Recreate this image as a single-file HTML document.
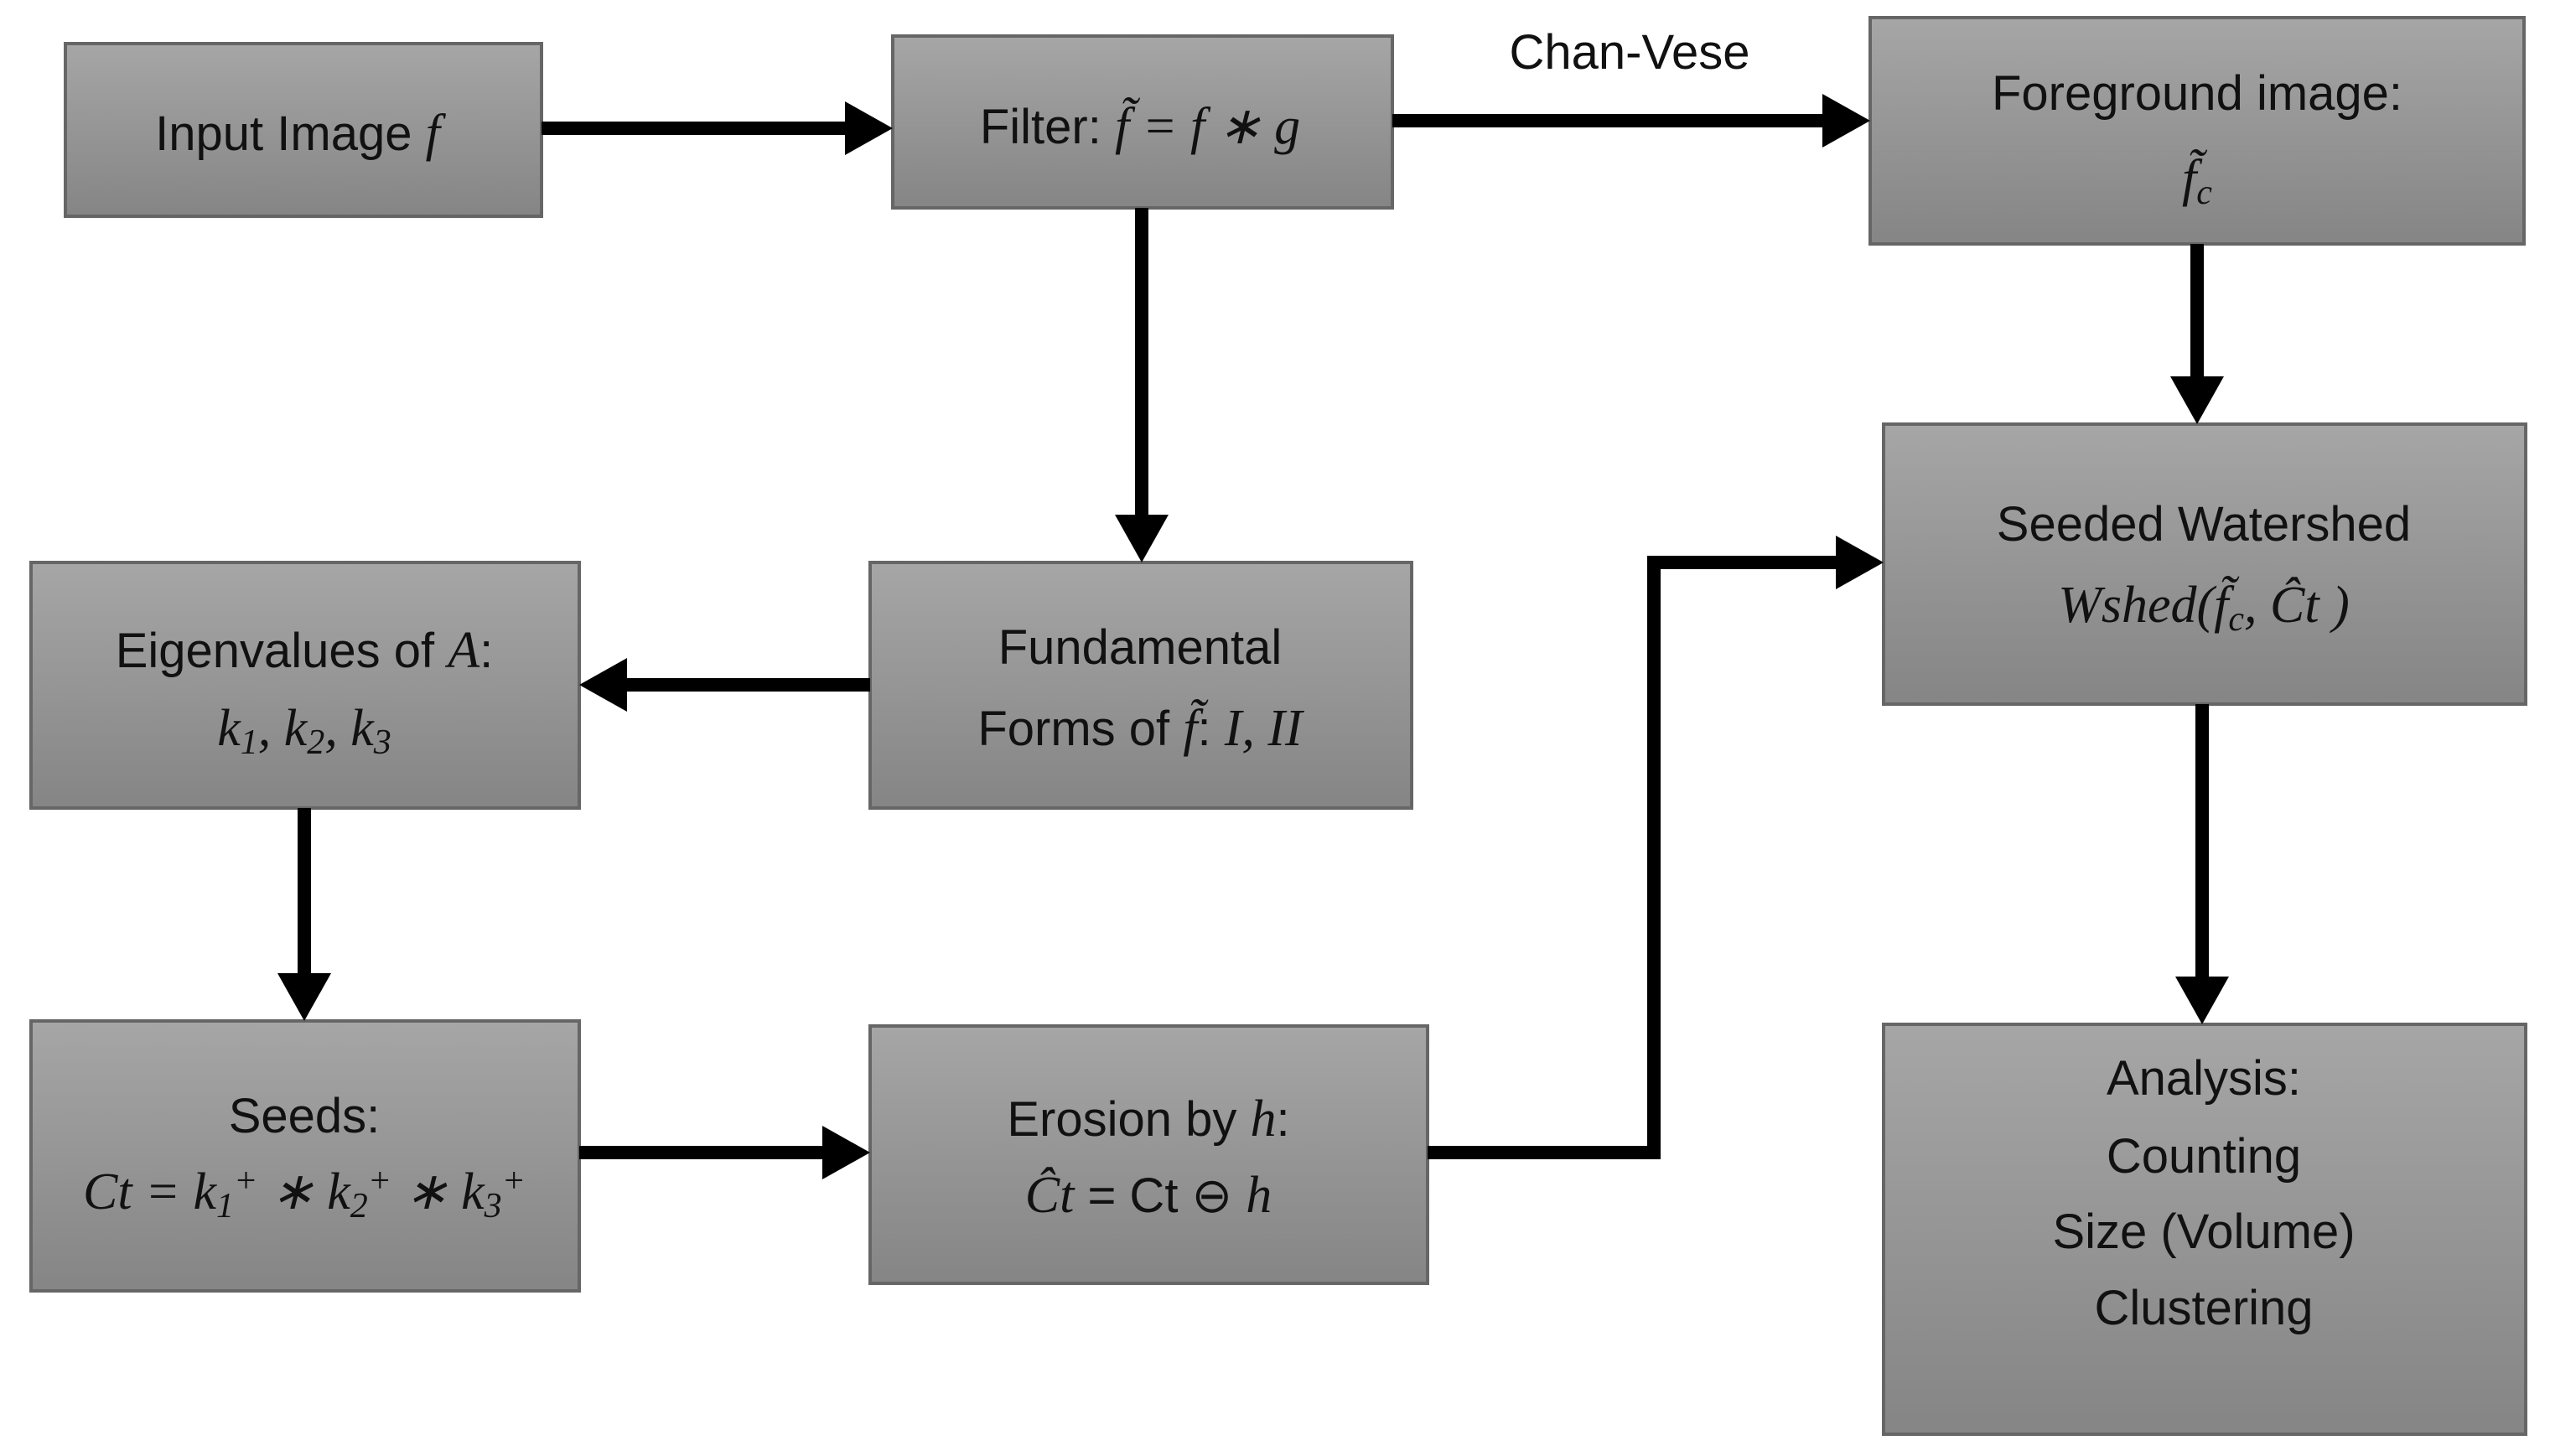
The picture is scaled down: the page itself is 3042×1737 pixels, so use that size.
<!DOCTYPE html>
<html><head><meta charset="utf-8"><style>
html,body{margin:0;padding:0;background:#fff;}
svg{display:block;}
text{font-family:"Liberation Sans",sans-serif;font-size:58px;fill:#111;text-anchor:middle;}
.m{font-family:"Liberation Serif",serif;font-style:italic;font-size:62px;}
</style></head><body>
<svg width="3042" height="1737" viewBox="0 0 3042 1737" xmlns="http://www.w3.org/2000/svg">
<defs>
<linearGradient id="g" x1="0" y1="0" x2="0" y2="1">
<stop offset="0" stop-color="#a6a6a6"/><stop offset="1" stop-color="#858585"/>
</linearGradient>
</defs>
<g fill="url(#g)" stroke="#666" stroke-width="4">
<rect x="78" y="52" width="568" height="206"/>
<rect x="1065" y="43" width="596" height="205"/>
<rect x="2231" y="21" width="780" height="270"/>
<rect x="1038" y="671" width="646" height="293"/>
<rect x="37" y="671" width="654" height="293"/>
<rect x="2247" y="506" width="766" height="334"/>
<rect x="37" y="1218" width="654" height="322"/>
<rect x="1038" y="1224" width="665" height="307"/>
<rect x="2247" y="1222" width="766" height="489"/>
</g>
<g stroke="#000" stroke-width="16" fill="none">
<line x1="646" y1="153" x2="1010" y2="153"/>
<line x1="1661" y1="144" x2="2176" y2="144"/>
<line x1="1362" y1="248" x2="1362" y2="616"/>
<line x1="2621" y1="291" x2="2621" y2="451"/>
<line x1="1038" y1="817" x2="746" y2="817"/>
<line x1="363" y1="964" x2="363" y2="1163"/>
<line x1="691" y1="1375" x2="983" y2="1375"/>
<polyline points="1703,1375 1973,1375 1973,671 2192,671"/>
<line x1="2627" y1="840" x2="2627" y2="1167"/>
</g>
<g fill="#000">
<polygon points="1008,121 1065,153 1008,185"/>
<polygon points="2174,112 2231,144 2174,176"/>
<polygon points="1330,614 1362,671 1394,614"/>
<polygon points="2589,449 2621,506 2653,449"/>
<polygon points="748,785 691,817 748,849"/>
<polygon points="331,1161 363,1218 395,1161"/>
<polygon points="981,1343 1038,1375 981,1407"/>
<polygon points="2190,639 2247,671 2190,703"/>
<polygon points="2595,1165 2627,1222 2659,1165"/>
</g>
<text x="1944" y="82">Chan-Vese</text>
<text x="355" y="179">Input Image <tspan class="m">f</tspan></text>
<text x="1360" y="171">Filter: <tspan class="m">f̃ = f ∗ g</tspan></text>
<text x="2621" y="131">Foreground image:</text>
<text x="2621" y="233" class="m">f̃<tspan font-size="42" dy="10">c</tspan></text>
<text x="1360" y="792">Fundamental</text>
<text x="1360" y="889">Forms of <tspan class="m">f̃</tspan>:  <tspan class="m">I, II</tspan></text>
<text x="363" y="796">Eigenvalues of <tspan class="m">A</tspan>:</text>
<text x="363" y="889" class="m">k<tspan font-size="42" dy="10">1</tspan><tspan dy="-10">, k</tspan><tspan font-size="42" dy="10">2</tspan><tspan dy="-10">, k</tspan><tspan font-size="42" dy="10">3</tspan></text>
<text x="2629" y="645">Seeded Watershed</text>
<text x="2629" y="742" class="m">Wshed(f̃<tspan font-size="42" dy="10">c</tspan><tspan dy="-10">, Ĉt )</tspan></text>
<text x="363" y="1351">Seeds:</text>
<text x="363" y="1442" class="m">Ct = k<tspan font-size="42" dy="10">1</tspan><tspan font-size="42" dy="-30">+</tspan><tspan dy="20"> ∗ k</tspan><tspan font-size="42" dy="10">2</tspan><tspan font-size="42" dy="-30">+</tspan><tspan dy="20"> ∗ k</tspan><tspan font-size="42" dy="10">3</tspan><tspan font-size="42" dy="-30">+</tspan></text>
<text x="1370" y="1355">Erosion by <tspan class="m">h</tspan>:</text>
<text x="1370" y="1446"><tspan class="m">Ĉt</tspan> = Ct ⊖ <tspan class="m">h</tspan></text>
<text x="2629" y="1306">Analysis:</text>
<text x="2629" y="1399">Counting</text>
<text x="2629" y="1489">Size (Volume)</text>
<text x="2629" y="1580">Clustering</text>
</svg>
</body></html>
